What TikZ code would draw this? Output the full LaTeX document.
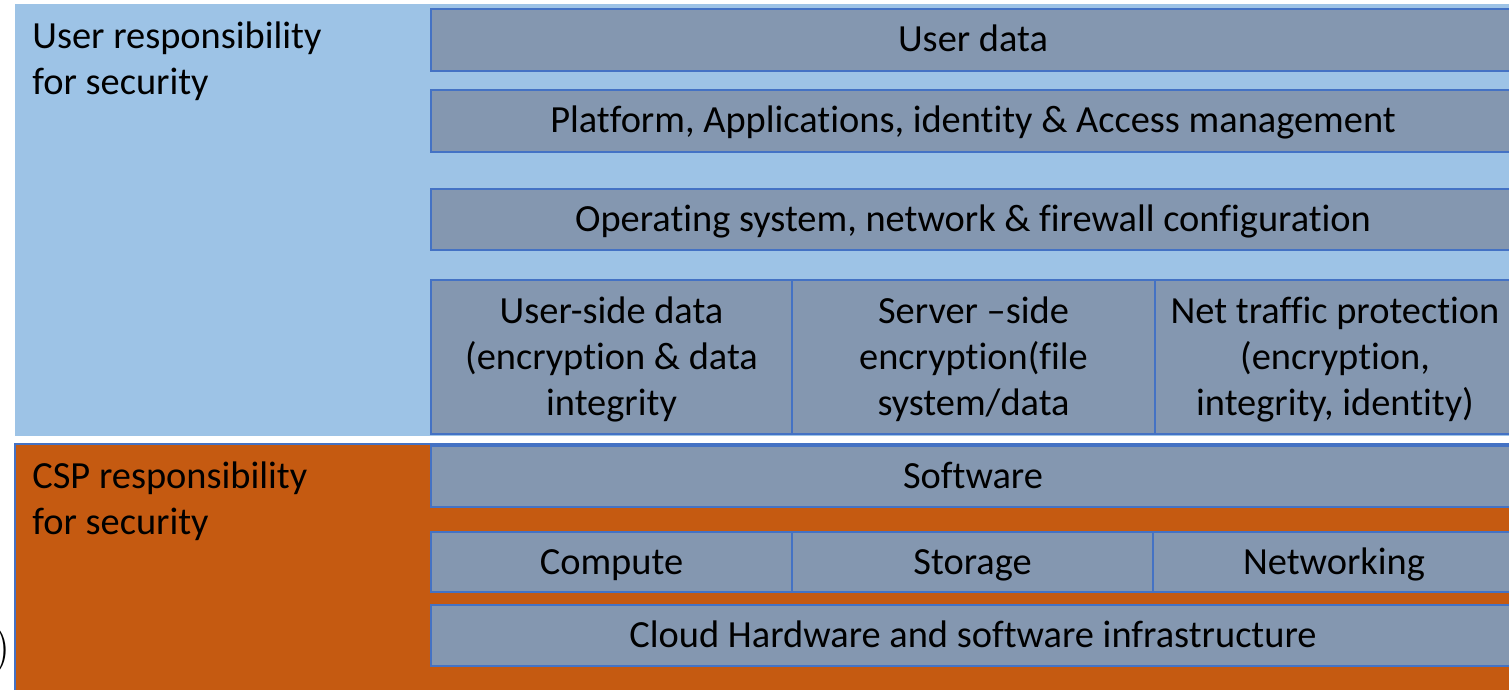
\documentclass[tikz,border=0pt]{standalone}
\usepackage{fontspec}
\setmainfont[Ligatures={NoCommon}]{Carlito}
\newfontfamily\parenfont{Latin Modern Roman}
\definecolor{userblue}{HTML}{9DC3E6}
\definecolor{cspor}{HTML}{C55A11}
\definecolor{cellgray}{HTML}{8497B0}
\definecolor{edgeblue}{HTML}{4472C4}
\frenchspacing
% fixed line boxes so every line sits at the same place in its cell
\newcommand\cellup{\rule{0pt}{16pt}}
\newcommand\celldown{\rule[-4pt]{0pt}{4pt}}
\begin{document}
\begin{tikzpicture}[x=0.5pt,y=-0.5pt,
  panel/.style={inner sep=0pt, anchor=north west, outer sep=0pt},
  cell/.style={draw=edgeblue, fill=cellgray, line width=1pt, inner sep=0pt,
    outer sep=0pt, anchor=north west, align=center,
    font=\fontsize{19.2}{23}\selectfont},
  oneline/.style={cell, text height=16pt, text depth=4pt},
  sidelabel/.style={anchor=west, align=left, inner sep=0pt,
    font=\fontsize{19.2}{23}\selectfont}]
\useasboundingbox (0,0) rectangle (1509,690);
\clip (0,0) rectangle (1509,690);

% responsibility panels
\node[panel, fill=userblue, minimum width=750pt, minimum height=216pt] (userpanel) at (15,4) {};
\node[panel, fill=cspor, draw=edgeblue, line width=0.75pt, minimum width=750pt, minimum height=126pt] (csppanel) at (15,444) {};

\node[sidelabel] (userlbl) at (32,61) {User responsibility\\for security};
\node[sidelabel] (csplbl) at (32,501) {CSP responsibility\\for security};

% user-side layers
\node[oneline, minimum width=542pt, minimum height=31pt] (userdata) at (431,9) {User data};
\node[oneline, minimum width=542pt, minimum height=31pt] (platform) at (431,90) {Platform, Applications, identity \& Access management};
\node[oneline, minimum width=542pt, minimum height=30.5pt] (os) at (431,189) {Operating system, network \& firewall configuration};
\node[cell, minimum width=180.5pt, minimum height=77pt] (userside) at (431,280) {\cellup User-side data\\(encryption \& data\\integrity\celldown};
\node[cell, minimum width=181.5pt, minimum height=77pt] (serverside) at (792,280) {\cellup Server –side\\encryption(file\\system/data\celldown};
\node[cell, minimum width=180pt, minimum height=77pt] (nettraffic) at (1155,280) {\cellup Net traffic protection\\(encryption,\\integrity, identity)\celldown};

% provider-side layers
\node[oneline, minimum width=542pt, minimum height=30.5pt] (software) at (431,446) {Software};
\node[oneline, minimum width=180.5pt, minimum height=30pt] (compute) at (431,532) {Compute};
\node[oneline, minimum width=180.5pt, minimum height=30pt] (storage) at (792,532) {Storage};
\node[oneline, minimum width=181pt, minimum height=30pt] (networking) at (1153,532) {Networking};
\node[oneline, minimum width=542pt, minimum height=30.5pt] (cloud) at (431,605) {Cloud Hardware and software infrastructure};

\node[anchor=east, inner sep=0pt, font=\parenfont\fontsize{24}{28}\selectfont] (paren) at (11,651) {)};
\end{tikzpicture}
\end{document}
